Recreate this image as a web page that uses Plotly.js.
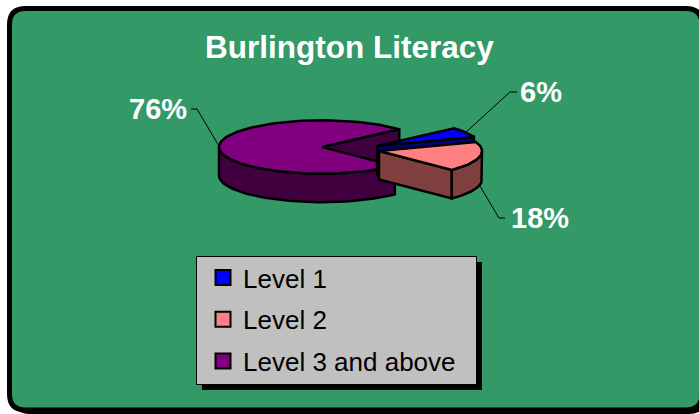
<!DOCTYPE html>
<html>
<head>
<meta charset="utf-8">
<script src="https://cdn.plot.ly/plotly-3.0.1.min.js"></script>
<style>
html,body{margin:0;padding:0;background:#fff;}
#chart{width:699px;height:414px;}
</style>
</head>
<body>
<div id="chart"></div>
<script>
// ---- data ----
const categories = ['Level 1', 'Level 2', 'Level 3 and above'];
const values = [6, 18, 76];
const topColors = ['#0000FF', '#FF8080', '#800080'];
const sideColors = ['#000080', '#804040', '#400040'];

// ---- geometry / style (pixel space) ----
const W = 699, H = 414;
const geo = {cx: 322, cy: 147, rx: 103, ry: 26.7, depth: 28.5, startAngle: 41.4};
const explode = [[55, -1], [57, 4], [0, 0]];
const drawOrder = [2, 0, 1];
const labelFont = {family: 'Liberation Sans, Arial, sans-serif', size: 29, color: '#FFFFFF'};
const labelCfg = [
  {useBottom: false, elbow: [510, 92], end: [517, 92], text: [541, 92]},
  {useBottom: true, elbow: [499, 218], end: [505, 218], text: [540, 218]},
  {useBottom: false, elbow: [197, 109], end: [191, 109], text: [158, 109]}
];

const total = values.reduce((a, b) => a + b, 0);
const rad = d => d * Math.PI / 180;

function pt(c, th, dz) {
  return [c[0] + geo.rx * Math.cos(rad(th)), c[1] - geo.ry * Math.sin(rad(th)) + dz];
}
function arc(c, a, b, dz) {
  const n = Math.max(2, Math.ceil(Math.abs(b - a) / 2));
  const out = [];
  for (let k = 0; k <= n; k++) out.push(pt(c, a + (b - a) * k / n, dz));
  return out;
}

// slice angles (clockwise from startAngle)
const slices = [];
let s = geo.startAngle;
values.forEach((v, i) => {
  const span = v / total * 360;
  let a1 = s - span, a2 = s;
  while (a1 < 0) { a1 += 360; a2 += 360; }
  slices.push({a1, a2, mid: (a1 + a2) / 2,
    c: [geo.cx + explode[i][0], geo.cy + explode[i][1]]});
  s -= span;
});

const traces = [];
function poly(points, fill, lw) {
  traces.push({
    type: 'scatter', mode: 'lines', fill: 'toself', fillcolor: fill,
    x: points.map(p => p[0]), y: points.map(p => p[1]),
    line: {color: '#000', width: lw === undefined ? 2.5 : lw, shape: 'linear'},
    hoverinfo: 'skip', showlegend: false
  });
}

drawOrder.forEach(i => {
  const sl = slices[i], c = sl.c, d = geo.depth;
  const faceAt = th => {
    const r = pt(c, th, 0), rb = pt(c, th, d);
    poly([[c[0], c[1]], r, rb, [c[0], c[1] + d], [c[0], c[1]]], sideColors[i]);
  };
  if (Math.cos(rad(sl.a1)) > 0) faceAt(sl.a1);
  if (Math.cos(rad(sl.a2)) < 0) faceAt(sl.a2);
  [[180, 360], [540, 720]].forEach(([lo, hi]) => {
    const a = Math.max(lo, sl.a1), b = Math.min(hi, sl.a2);
    if (b > a) {
      const topR = arc(c, a, b, 0), botR = arc(c, b, a, d);
      const pts = topR.concat(botR);
      pts.push(topR[0]);
      poly(pts, sideColors[i]);
    }
  });
  const top = [[c[0], c[1]]].concat(arc(c, sl.a1, sl.a2, 0));
  top.push([c[0], c[1]]);
  poly(top, topColors[i]);
});

// leader lines + labels
const annotations = [];
values.forEach((v, i) => {
  const sl = slices[i], cfg = labelCfg[i];
  const a = pt(sl.c, sl.mid, cfg.useBottom ? geo.depth : 0);
  traces.push({
    type: 'scatter', mode: 'lines',
    x: [a[0], cfg.elbow[0], cfg.end[0]], y: [a[1], cfg.elbow[1], cfg.end[1]],
    line: {color: '#000', width: 1}, hoverinfo: 'skip', showlegend: false
  });
  annotations.push({
    xref: 'x', yref: 'y', x: cfg.text[0], y: cfg.text[1],
    text: '<b>' + Math.round(v / total * 100) + '%</b>',
    showarrow: false, xanchor: 'center', yanchor: 'middle',
    font: labelFont
  });
});

// legend entries
categories.forEach((name, i) => {
  traces.push({
    type: 'scatter', mode: 'markers', x: [null], y: [null], name: name,
    legendgroup: 'g' + i,
    marker: {symbol: 'square', size: 15, color: topColors[i], line: {color: '#000', width: 2}},
    hoverinfo: 'skip'
  });
});

function roundRect(x0, y0, x1, y1, r) {
  return `M${x0 + r},${y0} L${x1 - r},${y0} Q${x1},${y0} ${x1},${y0 + r} L${x1},${y1 - r} Q${x1},${y1} ${x1 - r},${y1} L${x0 + r},${y1} Q${x0},${y1} ${x0},${y1 - r} L${x0},${y0 + r} Q${x0},${y0} ${x0 + r},${y0} Z`;
}

const shapes = [
  {type: 'path', xref: 'x', yref: 'y', layer: 'below', path: roundRect(13, 12, 706, 414, 17), fillcolor: '#000', line: {width: 0}},
  {type: 'path', xref: 'x', yref: 'y', layer: 'below', path: roundRect(9.5, 8.5, 702, 410, 16), fillcolor: '#339966', line: {color: '#000', width: 5}},
  {type: 'rect', xref: 'x', yref: 'y', layer: 'below', x0: 202, y0: 262, x1: 482, y1: 390, fillcolor: '#000', line: {width: 0}},
  {type: 'rect', xref: 'x', yref: 'y', layer: 'below', x0: 196.5, y0: 256.5, x1: 476.5, y1: 384.5, fillcolor: '#C0C0C0', line: {color: '#000', width: 1}}
];

const layout = {
  width: W, height: H,
  margin: {l: 0, r: 0, t: 0, b: 0, pad: 0},
  paper_bgcolor: '#FFFFFF', plot_bgcolor: 'rgba(0,0,0,0)',
  title: {
    text: '<b>Burlington Literacy</b>',
    x: 0.5, xref: 'container', xanchor: 'center',
    y: 1 - 47 / H, yref: 'container', yanchor: 'middle',
    font: {family: 'Liberation Sans, Arial, sans-serif', size: 31.5, color: '#FFFFFF'}
  },
  xaxis: {range: [0, W], visible: false, fixedrange: true},
  yaxis: {range: [H, 0], visible: false, fixedrange: true},
  showlegend: true,
  legend: {
    x: 203 / W, xanchor: 'left', y: 1 - 254 / H, yanchor: 'top',
    bgcolor: 'rgba(0,0,0,0)', borderwidth: 0,
    font: {family: 'Liberation Sans, Arial, sans-serif', size: 26, color: '#000'},
    traceorder: 'grouped', tracegroupgap: 5
  },
  shapes: shapes,
  annotations: annotations
};

Plotly.newPlot('chart', traces, layout, {staticPlot: true, displayModeBar: false});
</script>
</body>
</html>
